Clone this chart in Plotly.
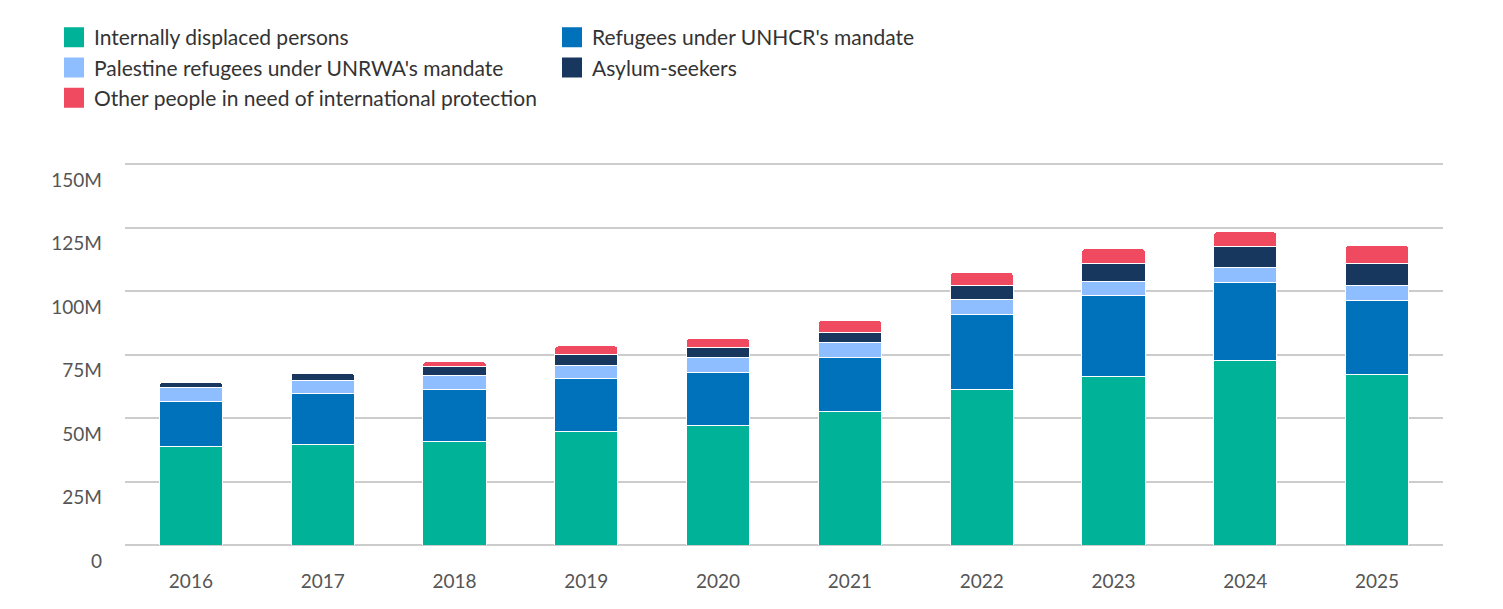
import plotly.graph_objects as go

years = ['2016', '2017', '2018', '2019', '2020', '2021', '2022', '2023', '2024', '2025']

# values in millions
idp = [38.9, 39.6, 40.7, 44.6, 47.2, 52.6, 61.3, 66.2, 72.7, 67.2]
refugees = [17.7, 20.0, 20.6, 21.0, 20.7, 21.3, 29.6, 31.9, 30.8, 29.2]
palestine = [5.4, 5.1, 5.4, 5.0, 6.0, 5.8, 5.9, 5.8, 5.9, 5.9]
asylum = [2.1, 3.0, 3.5, 4.4, 3.9, 4.1, 5.5, 7.1, 8.1, 8.7]
other = [0, 0, 2.1, 3.4, 3.6, 4.6, 5.1, 5.8, 5.8, 7.1]

tick_vals = [0, 25, 50, 75, 100, 125, 150]
tick_text = ['0', '25M', '50M', '75M', '100M', '125M', '150M']

series = [
    ('Internally displaced persons', idp, '#00B398'),
    ("Refugees under UNHCR's mandate", refugees, '#0072BC'),
    ("Palestine refugees under UNRWA's mandate", palestine, '#8EBEFF'),
    ('Asylum-seekers', asylum, '#18375F'),
    ('Other people in need of international protection', other, '#EF4A60'),
]

FONT = 'Lato'

fig = go.Figure()
for name, vals, color in series:
    fig.add_trace(go.Bar(
        x=years, y=vals, name=name, showlegend=False,
        marker=dict(color=color, line=dict(color='white', width=1)),
        hovertemplate='%{x}: %{y}M<extra>' + name + '</extra>',
    ))

# legend proxies so the swatches come out as bigger squares
for name, vals, color in series:
    fig.add_trace(go.Scatter(
        x=[None], y=[None], mode='markers', name=name,
        marker=dict(symbol='square', size=16, color=color, line=dict(color=color, width=4)),
    ))

# page body has an 8px margin, so everything is nudged back by 8px
fig.update_layout(
    width=1503, height=609,
    barmode='stack', bargap=0.52, barcornerradius=4,
    plot_bgcolor='white', paper_bgcolor='white',
    margin=dict(l=117, r=68, t=155, b=72),
    font=dict(family=FONT, size=19, color='#555555'),
    legend=dict(
        orientation='h', xref='container', yref='container',
        x=46 / 1503, y=1 - 9 / 609, xanchor='left', yanchor='top',
        entrywidth=453, entrywidthmode='pixels',
        font=dict(family=FONT, size=21, color='#333333'),
        traceorder='normal', bgcolor='rgba(0,0,0,0)',
    ),
    xaxis=dict(
        showgrid=False, showline=False, ticks='',
        tickfont=dict(size=19, color='#555555'), ticklabelstandoff=23,
    ),
    yaxis=dict(
        range=[0, 150.4], tickvals=tick_vals, ticktext=tick_text,
        showgrid=True, gridcolor='#cccccc', gridwidth=1.5,
        zeroline=True, zerolinecolor='#cccccc', zerolinewidth=1.5,
        showline=False, ticks='',
        tickfont=dict(size=19, color='#555555'),
        ticklabelshift=16, ticklabelstandoff=22,
    ),
)

fig.write_html('out.html')
